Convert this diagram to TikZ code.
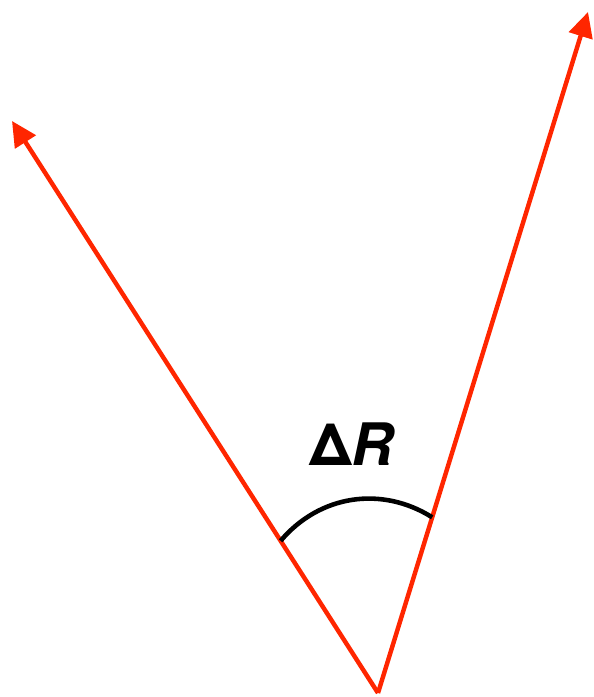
\documentclass[tikz,border=0pt]{standalone}
\usepackage{fontspec}
\usepackage{tikz}
\usetikzlibrary{arrows.meta, calc}
\newfontfamily\deltafont{TeX Gyre Heros}
\definecolor{vecred}{RGB}{255,38,0}
\tikzstyle{vec}   = [vecred, line width=3.8pt, -{Triangle[length=0.75cm, width=0.72cm]}]
\tikzstyle{angle} = [black, line width=3.9pt]

\begin{document}
\begin{tikzpicture}
  \useasboundingbox (0,0) rectangle (17.79,20.91);

  % --- Common origin and the two vector tips ---
  \coordinate (o)  at (11.34, 0.12);
  \coordinate (r1) at (0.36, 17.28);
  \coordinate (r2) at (17.64, 20.55);

  % Vectors
  \draw[vec] (o) -- (r1);
  \draw[vec] (o) -- (r2);

  % Angle between them
  \coordinate (a1) at ($(o)!0.266!(r1)$);
  \coordinate (a2) at ($(o)!0.258!(r2)$);
  \draw[angle] (a1) to[bend left=41] (a2);

  \node[font=\deltafont\fontsize{50}{60}\selectfont] (dr) at (10.55, 7.6)
       {\bfseries Δ\itshape R};
\end{tikzpicture}
\end{document}
